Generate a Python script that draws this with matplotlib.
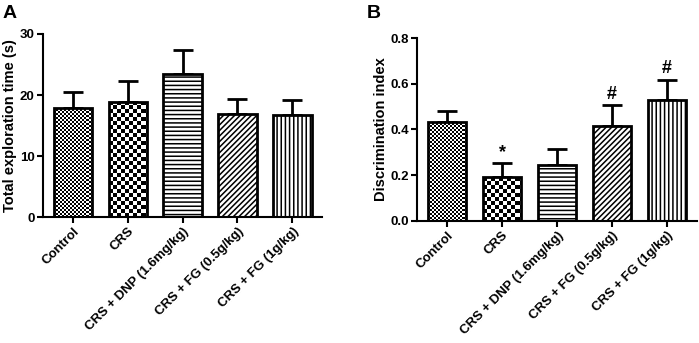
import numpy as np
import matplotlib
matplotlib.use("Agg")
import matplotlib.pyplot as plt

plt.rcParams['font.family'] = ['Liberation Sans', 'DejaVu Sans']
plt.rcParams['font.weight'] = 'bold'
plt.rcParams['hatch.linewidth'] = 1.1

categories = ["Control", "CRS", "CRS + DNP (1.6mg/kg)", "CRS + FG (0.5g/kg)", "CRS + FG (1g/kg)"]
time_mean = [17.8, 18.8, 23.5, 16.9, 16.7]
time_err = [2.7, 3.5, 3.9, 2.5, 2.5]
di_mean = [0.433, 0.192, 0.245, 0.415, 0.528]
di_err = [0.047, 0.061, 0.07, 0.09, 0.09]
di_marks = ["", "*", "", "#", "#"]
patterns = ["fine", "checker", "----", "//////", "||||"]

fig = plt.figure(figsize=(6.99, 3.43), dpi=100)
axA = fig.add_axes([0.0615, 0.367, 0.3995, 0.534])
axB = fig.add_axes([0.597, 0.356, 0.40, 0.533])


def draw(ax, means, errs, ymax, yticks, yfmt, ylabel, marks=None):
    x = np.arange(len(means))
    w = 0.7
    ax.set_xlim(-0.545, len(means) - 1 + 0.545)
    ax.set_ylim(0, ymax)
    bars = ax.bar(x, means, width=w, color='white', edgecolor='black', linewidth=2.0, zorder=2)
    ax.errorbar(x, means, yerr=[np.zeros(len(errs)), errs], fmt='none', ecolor='black',
                elinewidth=2.0, capsize=7.5, capthick=2.0, zorder=1)
    fig.canvas.draw()
    for b, p in zip(bars, patterns):
        if p in ("fine", "checker"):
            b.set_facecolor('none')
            x0, y0 = b.get_x(), 0
            x1, y1 = b.get_x() + b.get_width(), b.get_height()
            bb = b.get_window_extent()
            cell = 2.0 if p == "fine" else 4.0
            nx = int(bb.width / cell) + 1
            ny = int(bb.height / cell) + 1
            yy, xx = np.mgrid[0:ny, 0:nx]
            img = ((xx + yy) % 2).astype(float)
            ext_x1 = x0 + nx * cell / bb.width * (x1 - x0)
            ext_y1 = y0 + ny * cell / bb.height * (y1 - y0)
            im = ax.imshow(img, cmap='gray', vmin=0, vmax=1, extent=[x0, ext_x1, y0, ext_y1],
                           origin='lower', aspect='auto', interpolation='nearest', zorder=1.8)
            im.set_clip_path(b)
        else:
            b.set_hatch(p)
    ax.set_xlim(-0.545, len(means) - 1 + 0.545)
    ax.set_ylim(0, ymax)
    ax.set_yticks(yticks)
    ax.set_yticklabels([yfmt.format(t) for t in yticks], fontsize=9.5, fontweight='bold')
    ax.set_xticks(x)
    ax.set_xticklabels(categories, rotation=45, ha='right', rotation_mode='anchor',
                       fontsize=9.5, fontweight='bold')
    ax.set_ylabel(ylabel, fontsize=10.5, fontweight='bold', labelpad=2)
    for s in ['top', 'right']:
        ax.spines[s].set_visible(False)
    for s in ['left', 'bottom']:
        ax.spines[s].set_linewidth(1.5)
    ax.tick_params(width=1.5, length=4, pad=2)
    if marks:
        for xi, m, e, v in zip(x, marks, errs, means):
            if m:
                ax.text(xi, v + e + ymax * 0.012, m, ha='center', va='bottom',
                        fontsize=13, fontweight='bold')


draw(axA, time_mean, time_err, 30, [0, 10, 20, 30], "{:.0f}", "Total exploration time (s)")
draw(axB, di_mean, di_err, 0.8, [0.0, 0.2, 0.4, 0.6, 0.8], "{:.1f}", "Discrimination index", di_marks)

fig.text(0.004, 0.985, "A", fontsize=14, fontweight='bold', va='top', ha='left')
fig.text(0.525, 0.985, "B", fontsize=14, fontweight='bold', va='top', ha='left')

fig.savefig("out.png", dpi=100)
